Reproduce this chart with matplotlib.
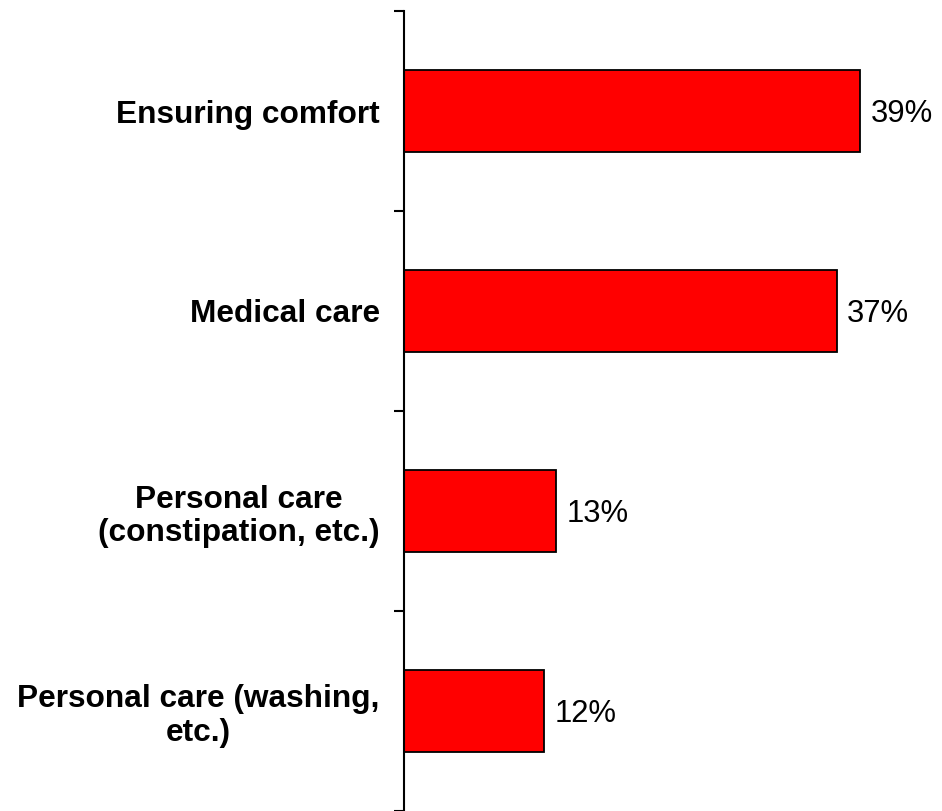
import matplotlib
matplotlib.use("Agg")
import matplotlib.pyplot as plt
import numpy as np

categories = ["Ensuring comfort", "Medical care", "Personal care\n(constipation, etc.)", "Personal care (washing,\netc.)"]
values = [39, 37, 13, 12]
value_labels = ["39%", "37%", "13%", "12%"]

plt.rcParams['font.family'] = ['Liberation Sans', 'DejaVu Sans']

fig = plt.figure(figsize=(9.42, 8.11), dpi=100)
W, H = 942, 811
ax = fig.add_axes([404 / W, 0, (W - 404) / W, 800 / H])

y = np.arange(len(categories))
ax.barh(y, values, height=0.41, color='#ff0000', edgecolor='black', linewidth=1.3)

ax.set_xlim(0, 46)
ax.set_ylim(len(categories) - 0.5, -0.5)

for yi, v, lab in zip(y, values, value_labels):
    ax.annotate(lab, xy=(v, yi), xytext=(7.5, -2), textcoords='offset points',
                ha='left', va='center', fontsize=22.3, color='black')

for s in ['top', 'right', 'bottom']:
    ax.spines[s].set_visible(False)
ax.spines['left'].set_linewidth(1.5)

ax.set_xticks([])
ax.set_yticks(np.arange(-0.5, len(categories), 1.0))
ax.set_yticklabels([])
ax.tick_params(axis='y', which='major', length=7.5, width=1.5, direction='out')
ax.set_yticks(y, minor=True)
ax.set_yticklabels(categories, minor=True, fontsize=22.8, fontweight='bold')
ax.tick_params(axis='y', which='minor', length=0, pad=17.5)
for t in ax.get_yticklabels(minor=True):
    t.set_multialignment('center')
    t.set_linespacing(1.15)

fig.savefig("out.png", dpi=100)
